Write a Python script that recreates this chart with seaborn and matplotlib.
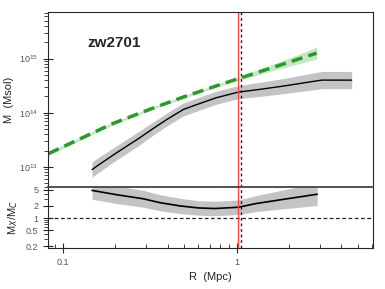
import numpy as np
import pandas as pd
import matplotlib
matplotlib.use("Agg")
import matplotlib.pyplot as plt
import seaborn as sns
from matplotlib.ticker import LogLocator, FixedLocator, FixedFormatter, NullFormatter

sns.set_style("ticks")
plt.rcParams['font.family'] = ['Liberation Sans', 'DejaVu Sans']

# profil khối lượng (đường đen + dải xám)
r_x = [0.147, 0.160, 0.205, 0.271, 0.339, 0.396, 0.493, 0.620, 0.767, 1.02, 1.36, 1.85, 3.08, 4.58]
m_x = [8.9e12, 1.08e13, 1.85e13, 3.3e13, 5.4e13, 7.5e13, 1.15e14, 1.5e14, 1.9e14, 2.4e14, 2.7e14, 3.1e14, 4.0e14, 4.0e14]
dex_x = [0.14, 0.14, 0.13, 0.13, 0.12, 0.12, 0.12, 0.12, 0.12, 0.12, 0.13, 0.14, 0.16, 0.16]

# đường xanh đứt nét + dải xanh nhạt
r_c = [0.0826, 0.123, 0.191, 0.339, 0.493, 0.767, 1.02, 1.36, 1.85, 2.88]
m_c = [1.76e13, 3.2e13, 6.2e13, 1.26e14, 1.95e14, 3.15e14, 4.25e14, 5.75e14, 7.9e14, 1.26e15]
dex_c = [0.03, 0.03, 0.025, 0.025, 0.025, 0.025, 0.03, 0.05, 0.07, 0.11]

# tỉ số Mx/Mc (panel dưới)
r_ratio = [0.147, 0.205, 0.29, 0.362, 0.47, 0.6, 0.75, 1.02, 1.3, 1.75, 2.9]
ratio = [4.85, 3.77, 3.0, 2.4, 2.0, 1.78, 1.72, 1.85, 2.3, 2.8, 3.9]
dex_ratio = [0.22, 0.22, 0.21, 0.2, 0.19, 0.18, 0.18, 0.18, 0.2, 0.23, 0.28]

r_red = 1.02
r_dot = 1.06
name = "zw2701"

df_x = pd.DataFrame({"R": r_x, "M": m_x})
df_c = pd.DataFrame({"R": r_c, "M": m_c})
df_r = pd.DataFrame({"R": r_ratio, "ratio": ratio})

fig = plt.figure(figsize=(3.85, 2.89), dpi=100)
ax1 = fig.add_axes([0.1247, 0.354, 0.8433, 0.604])
ax2 = fig.add_axes([0.1247, 0.142, 0.8433, 0.212], sharex=ax1)

# panel trên
lo = np.array(m_x) / 10 ** np.array(dex_x)
hi = np.array(m_x) * 10 ** np.array(dex_x)
ax1.fill_between(r_x, lo, hi, color='#c4c4c4', lw=0)
lo = np.array(m_c) / 10 ** np.array(dex_c)
hi = np.array(m_c) * 10 ** np.array(dex_c)
ax1.fill_between(r_c, lo, hi, color='#c6e6c6', lw=0)
sns.lineplot(data=df_x, x="R", y="M", ax=ax1, color='black', lw=1)
sns.lineplot(data=df_c, x="R", y="M", ax=ax1, color='#2a9a2a', lw=2.5, dashes=False,
             linestyle=(0, (3.2, 1.8)))
ax1.axvline(r_red, color='#ff4444', lw=1)
ax1.axvline(r_dot, color='#222222', lw=1, linestyle=(0, (2, 2)))
ax1.set_xscale('log')
ax1.set_yscale('log')
ax1.set_xlim(0.082, 6.05)
ax1.set_ylim(4.3e12, 7.2e15)
ax1.text(0.203, 0.825, name, transform=ax1.transAxes, ha='center', va='center',
         fontsize=11, fontweight='bold')
ax1.set_ylabel("M  (Msol)", fontsize=8, color='#222222')
ax1.set_xlabel("")
ax1.tick_params(axis='x', which='both', bottom=False, labelbottom=False)
ax1.yaxis.set_major_locator(FixedLocator([1e13, 1e14, 1e15]))
ax1.yaxis.set_minor_locator(LogLocator(base=10, subs=np.arange(2, 10)))
ax1.yaxis.set_minor_formatter(NullFormatter())
ax1.tick_params(axis='y', which='major', direction='inout', length=7, labelsize=6.5,
                labelcolor='#555555')
ax1.tick_params(axis='y', which='minor', direction='out', length=3)

# panel dưới
lo = np.array(ratio) / 10 ** np.array(dex_ratio)
hi = np.array(ratio) * 10 ** np.array(dex_ratio)
ax2.fill_between(r_ratio, lo, hi, color='#c4c4c4', lw=0)
sns.lineplot(data=df_r, x="R", y="ratio", ax=ax2, color='black', lw=1.2)
ax2.axhline(1, color='#222222', lw=0.9, linestyle=(0, (3, 2)))
ax2.axvline(r_red, color='#ff4444', lw=1)
ax2.axvline(r_dot, color='#222222', lw=1, linestyle=(0, (2, 2)))
ax2.set_yscale('log')
ax2.set_ylim(0.18, 6.0)
ax2.yaxis.set_major_locator(FixedLocator([0.2, 0.5, 1, 2, 5]))
ax2.yaxis.set_major_formatter(FixedFormatter(['0.2', '0.5', '1', '2', '5']))
ax2.yaxis.set_minor_locator(LogLocator(base=10, subs=np.arange(2, 10)))
ax2.yaxis.set_minor_formatter(NullFormatter())
ax2.xaxis.set_major_locator(FixedLocator([0.1, 1]))
ax2.xaxis.set_major_formatter(FixedFormatter(['0.1', '1']))
ax2.xaxis.set_minor_locator(LogLocator(base=10, subs=np.arange(2, 10)))
ax2.xaxis.set_minor_formatter(NullFormatter())
ax2.tick_params(axis='both', which='major', direction='inout', length=7, labelsize=6.5,
                labelcolor='#555555')
ax2.tick_params(axis='x', which='minor', direction='in', length=3)
ax2.tick_params(axis='y', which='minor', direction='out', length=3)
ax2.set_ylabel("M$_X$/M$_C$", fontsize=8, color='#222222')
ax2.set_xlabel("R  (Mpc)", fontsize=8, color='#222222')
ax2.spines['top'].set_linewidth(1.3)
ax2.spines['top'].set_color('#444444')

for ax in (ax1, ax2):
    ax.spines['right'].set_visible(True)
    ax.spines['top'].set_visible(True)
    ax.tick_params(right=False, top=False)
    if ax.get_legend():
        ax.get_legend().remove()

fig.savefig("out.png", dpi=100)
